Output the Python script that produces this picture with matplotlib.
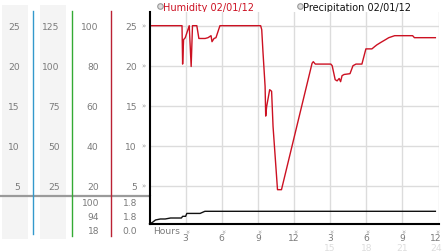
import matplotlib
matplotlib.use("Agg")
import matplotlib.pyplot as plt
from matplotlib.patches import Rectangle

# humidity trace (hours, value)
hum_hours = [0, 2.70, 2.75, 2.83, 2.97, 3.30, 3.46, 3.57, 3.93, 4.10, 4.62, 4.86, 5.11,
             5.19, 5.36, 5.52, 5.85, 9.23, 9.32, 9.42, 9.60, 9.65, 9.73, 9.98, 10.14,
             10.26, 10.63, 10.96, 13.50, 13.60, 13.77, 15.06, 15.17, 15.42, 15.58, 15.75,
             15.87, 15.99, 16.16, 16.65, 16.90, 17.15, 17.64, 17.97, 18.47, 18.71, 18.88,
             19.20, 19.54, 19.87, 20.36, 21.85, 22.00, 23.74]
hum_vals = [25, 25, 20.2, 23.25, 23.5, 25, 19.9, 25, 25, 23.4, 23.4, 23.5, 23.75,
            23.0, 23.4, 23.5, 25, 25, 24.5, 21.8, 17.4, 13.7, 14.9, 17.0, 16.8,
            12.4, 4.5, 4.5, 20.3, 20.5, 20.2, 20.2, 20.0, 18.25, 18.1, 18.4,
            18.0, 18.75, 18.9, 19.0, 20.0, 20.2, 20.2, 22.1, 22.1, 22.4, 22.6,
            22.9, 23.2, 23.5, 23.75, 23.75, 23.5, 23.5]

# precipitation (cumulative)
prec_hours = [0, 0.25, 0.5, 0.9, 1.3, 1.75, 2.65, 2.75, 3.0, 3.1, 4.2, 4.6, 23.74]
prec_vals = [0, 0.24, 0.57, 0.71, 0.71, 0.85, 0.85, 1.09, 1.09, 1.5, 1.5, 1.8, 1.8]

hum_ticks = [25, 20, 15, 10, 5]
col1_labels = ["25", "20", "15", "10", "5"]
col2_labels = ["125", "100", "75", "50", "25"]
col3_labels = ["100", "80", "60", "40", "20"]
col3_bottom = ["100", "94", "18"]
col4_bottom = ["1.8", "1.8", "0.0"]
hour_ticks = [3, 6, 9, 12, 15, 18, 21, 24]
hour_labels = ["3", "6", "9", "12", "3", "6", "9", "12"]
hour_labels2 = ["", "", "", "", "15", "18", "21", "24"]

W, H = 442, 253
GREY = "#7a7a7a"
GRID = "#dcdcdc"
RED = "#cc1122"
FS = 6.6
X0, X1 = 149.5, 438.5


def rect(x0, y0, x1, y1):
    return [x0 / W, 1 - y1 / H, (x1 - x0) / W, (y1 - y0) / H]


fig = plt.figure(figsize=(W / 100, H / 100), dpi=100)

# background layer in pixel coords
bg = fig.add_axes([0, 0, 1, 1], zorder=-1)
bg.set_xlim(0, W)
bg.set_ylim(H, 0)
bg.axis("off")
for x0, x1 in [(2, 28), (40, 66)]:
    bg.add_patch(Rectangle((x0, 6), x1 - x0, 234, color="#f4f4f4", lw=0))
bg.plot([0, X0], [197, 197], color="#9a9a9a", lw=1.6)
bg.plot([33, 33], [12, 235], color="#3399cc", lw=1)
bg.plot([72, 72], [12, 237], color="#33aa33", lw=1)
bg.plot([111, 111], [12, 237], color="#bb2233", lw=1)

# legend
bg.plot([160], [7], "o", ms=4, mfc="#dddddd", mec="#999999", mew=0.8)
bg.text(163, 7.5, "Humidity 02/01/12", color=RED, fontsize=7, va="center")
bg.plot([300], [7], "o", ms=4, mfc="#dddddd", mec="#999999", mew=0.8)
bg.text(303, 7.5, "Precipitation 02/01/12", color="#111111", fontsize=7, va="center")

# bottom summary labels
for row_y, a, b in zip([204, 218, 232], col3_bottom, col4_bottom):
    bg.text(99, row_y, a, ha="right", va="center", fontsize=FS, color=GREY)
    bg.text(137, row_y, b, ha="right", va="center", fontsize=FS, color=GREY)

# humidity panel
ylo, yhi = 3.71, 26.71
ax = fig.add_axes(rect(X0, 13, X1, 197))
ax.plot(hum_hours, hum_vals, color=RED, lw=1)
ax.set_xlim(0, 24)
ax.set_ylim(ylo, yhi)
ax.set_xticks(hour_ticks)
ax.set_yticks(hum_ticks)
ax.grid(True, color=GRID, lw=1)
ax.set_axisbelow(True)
ax.tick_params(axis="x", length=0, labelbottom=False)
ax.tick_params(axis="y", length=0, pad=9, labelsize=FS, labelcolor=GREY)
for s in ["top", "right", "bottom"]:
    ax.spines[s].set_visible(False)
ax.spines["left"].set_linewidth(1.5)
for v in hum_ticks:
    ax.annotate("\u00bb", xy=(0, v), xycoords=("axes fraction", "data"),
                xytext=(-2.5, 0), textcoords="offset points",
                ha="right", va="center", fontsize=5, color="#999999")

# extra scale columns, same vertical range
for xr, labels, k in [(21, col1_labels, 1), (61, col2_labels, 5), (100, col3_labels, 4)]:
    c = fig.add_axes(rect(xr, 13, xr + 1, 197))
    c.set_ylim(ylo * k, yhi * k)
    c.set_yticks([t * k for t in hum_ticks])
    c.set_yticklabels(labels)
    c.set_xticks([])
    c.tick_params(axis="y", length=0, pad=1, labelsize=FS, labelcolor=GREY)
    c.patch.set_visible(False)
    for s in c.spines.values():
        s.set_visible(False)

# precipitation panel
ax2 = fig.add_axes(rect(X0, 197, X1, 225))
ax2.plot(prec_hours, prec_vals, color="#111111", lw=1, clip_on=False)
ax2.set_xlim(0, 24)
ax2.set_ylim(0, 3.97)
ax2.set_yticks([])
ax2.set_xticks(hour_ticks)
ax2.set_xticklabels([])
ax2.grid(True, axis="x", color=GRID, lw=1)
ax2.set_axisbelow(True)
ax2.tick_params(axis="x", length=0)
for s in ["top", "right"]:
    ax2.spines[s].set_visible(False)
ax2.spines["left"].set_linewidth(1.5)
ax2.spines["bottom"].set_linewidth(1.5)
for i, (h, lab, lab2) in enumerate(zip(hour_ticks, hour_labels, hour_labels2)):
    dx = -1.8 if i == len(hour_ticks) - 1 else 0
    ax2.annotate("\u00bb", xy=(h, 0), xycoords=("data", "axes fraction"),
                 xytext=(dx, -4.5), textcoords="offset points", rotation=-90,
                 ha="center", va="center", fontsize=5, color="#999999")
    ax2.annotate(lab, xy=(h, 0), xycoords=("data", "axes fraction"),
                 xytext=(dx, -9.8), textcoords="offset points",
                 ha="center", va="center", fontsize=FS, color=GREY)
    if lab2:
        ax2.annotate(lab2, xy=(h, 0), xycoords=("data", "axes fraction"),
                     xytext=(dx, -17), textcoords="offset points",
                     ha="center", va="center", fontsize=FS, color="#dddddd")
ax2.annotate("Hours", xy=(0, 0), xycoords="axes fraction", xytext=(2.5, -5),
             textcoords="offset points", ha="left", va="center",
             fontsize=FS, color=GREY)

fig.savefig("out.png", dpi=100)
